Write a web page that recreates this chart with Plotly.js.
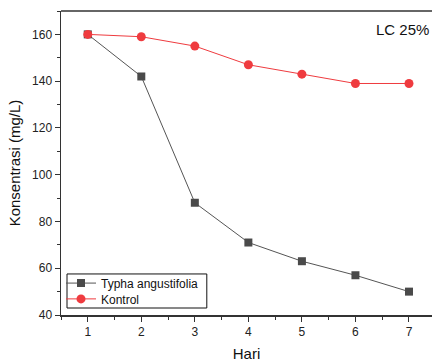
<!DOCTYPE html>
<html><head><meta charset="utf-8">
<script src="https://cdn.plot.ly/plotly-3.0.1.min.js"></script>
<style>html,body{margin:0;padding:0;background:#fff}#c{width:432px;height:362px}</style>
</head><body><div id="c"></div>
<script>
const days = [1, 2, 3, 4, 5, 6, 7];
const typha = [160, 142, 88, 71, 63, 57, 50];
const kontrol = [160, 159, 155, 147, 143, 139, 139];
const seriesNames = ["Typha angustifolia", "Kontrol"];
const xTitle = "Hari";
const yTitle = "Konsentrasi (mg/L)";
const label = "LC 25%";

const font = "Liberation Sans, Arial, sans-serif";
const traces = [
  {x: days, y: typha, name: seriesNames[0], mode: "lines+markers", type: "scatter", legend: "legend",
   line: {color: "#555555", width: 1}, marker: {symbol: "square", size: 8, color: "#4a4a4a"}},
  {x: days, y: kontrol, name: seriesNames[1], mode: "lines+markers", type: "scatter", legend: "legend2",
   line: {color: "#ef3b3f", width: 1}, marker: {symbol: "circle", size: 9, color: "#ef3b3f"}}
];
const axisCommon = {showline: true, linecolor: "#333", linewidth: 1.5, ticks: "outside", ticklen: 5,
  tickwidth: 1, tickcolor: "#333", showgrid: false, zeroline: false,
  tickfont: {family: font, size: 12, color: "#222"}};
const legendCommon = {xanchor: "left", yanchor: "middle", bgcolor: "rgba(0,0,0,0)",
  borderwidth: 0, font: {family: font, size: 12, color: "#111"}, itemwidth: 30};
const layout = {
  width: 432, height: 362, margin: {l: 61, r: 0, t: 11, b: 47},
  paper_bgcolor: "#fff", plot_bgcolor: "#fff", showlegend: true,
  xaxis: Object.assign({}, axisCommon, {range: [0.5, 7.43], tickvals: days, mirror: false,
    minor: {dtick: 0.5, tick0: 0.5, ticks: "outside", ticklen: 3, tickcolor: "#333"},
    title: {text: xTitle, font: {family: font, size: 15, color: "#111"}, standoff: 10}}),
  yaxis: Object.assign({}, axisCommon, {range: [40, 170], tickvals: [40, 60, 80, 100, 120, 140, 160],
    minor: {dtick: 10, tick0: 40, ticks: "outside", ticklen: 3, tickcolor: "#333"},
    title: {text: yTitle, font: {family: font, size: 15, color: "#111"}, standoff: 8}}),
  shapes: [
    {type: "line", xref: "paper", yref: "paper", x0: 0, x1: 1, y0: 1, y1: 1,
     line: {color: "#333", width: 1.5}},
    {type: "rect", xref: "paper", yref: "paper", x0: 0.0162, x1: 0.393, y0: 0.023, y1: 0.135,
     layer: "below", fillcolor: "#fff", line: {color: "#111", width: 1}}
  ],
  legend: Object.assign({}, legendCommon, {x: 0.0, y: 0.105}),
  legend2: Object.assign({}, legendCommon, {x: 0.0, y: 0.053}),
  annotations: [{text: label, xref: "paper", yref: "paper", x: 0.998, y: 0.975, xanchor: "right",
    yanchor: "top", showarrow: false, font: {family: font, size: 15, color: "#111"}}]
};
Plotly.newPlot("c", traces, layout, {displayModeBar: false, staticPlot: true});
</script></body></html>
